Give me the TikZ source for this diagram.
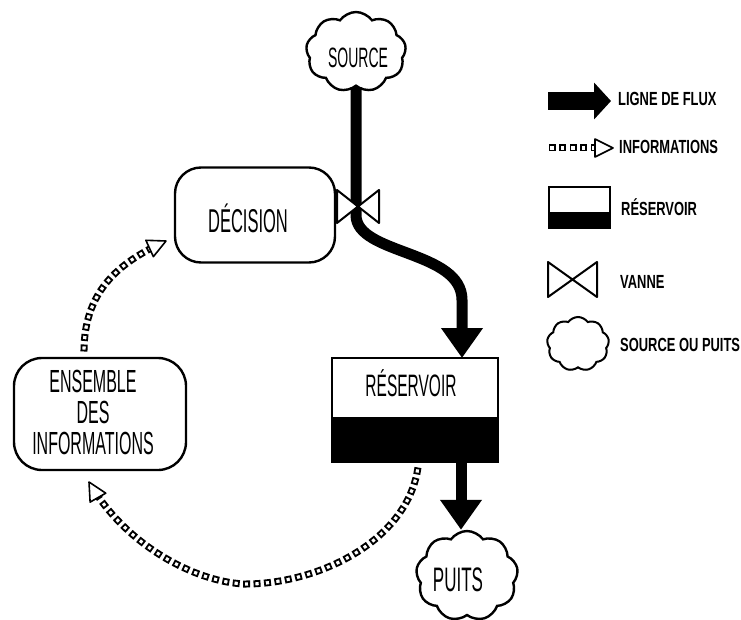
\documentclass[tikz,border=0pt]{standalone}
\usepackage{fontspec}
\usetikzlibrary{shapes.symbols,arrows.meta,decorations.markings,calc}
\newfontfamily\handbig[FakeStretch=0.5]{Liberation Sans}
\newfontfamily\handsmall[FakeStretch=0.68]{Liberation Sans}
\begin{document}
\begin{tikzpicture}[x=1pt,y=-1pt,
  box/.style={draw, line width=2.4pt, rounded corners=26pt, inner sep=0pt},
  cloudy/.style={cloud, draw, line width=2.4pt, cloud puffs=9, cloud puff arc=110, inner sep=0pt, aspect=1.25},
  bigtxt/.style={font=\handbig\fontsize{32}{31}\selectfont, inner sep=0pt},
  legtxt/.style={font=\handsmall\bfseries\fontsize{19}{19}\selectfont, inner sep=0pt, anchor=base west},
  flow/.style={line width=11pt, -{Triangle[width=40pt,length=30pt]}},
  sq/.style={line width=1.8pt},
  infochain/.style={draw=none,
    postaction={decorate, decoration={markings,
      mark=between positions 4pt and -15pt step 10.5pt with {\draw[sq] (-2.6pt,-2.6pt) rectangle (2.6pt,2.6pt);}}},
    postaction={decorate, decoration={markings,
      mark=at position 1 with {\draw[line width=1.6pt, fill=white, line join=round] (0pt,0pt) -- (-18pt,9pt) -- (-18pt,-9pt) -- cycle;}}}},
  valve/.style={line width=2pt, line join=round, fill=white}
]
\fill[white] (0,0) rectangle (741,620);
\useasboundingbox (0,0) rectangle (741,620);

% --- stock and clouds
\node[cloudy, minimum width=100pt, minimum height=80pt] (src) at (356,52) {};
\node[bigtxt, anchor=base, font=\handbig\fontsize{28}{28}\selectfont] (srctxt) at (358,68) {SOURCE};

\node[cloudy, minimum width=102pt, minimum height=90pt] (puits) at (467,576) {};
\node[bigtxt, anchor=base, font=\handbig\fontsize{34}{34}\selectfont] (puitstxt) at (458,591) {PUITS};

\node[box, minimum width=160pt, minimum height=95pt] (dec) at (255,215) {};
\node[bigtxt, anchor=base, font=\handbig\fontsize{33}{33}\selectfont] (dectxt) at (248,233) {DÉCISION};

\node[box, rounded corners=28pt, minimum width=172pt, minimum height=112pt] (ens) at (100,414) {};
\node[bigtxt, align=center] (enstxt) at (93,412) {ENSEMBLE\\DES\\INFORMATIONS};

\fill (332,417) rectangle (498,462);
\node[draw, line width=2.4pt, minimum width=166pt, minimum height=104pt, inner sep=0pt] (res) at (415,410) {};
\node[bigtxt, anchor=base, font=\handbig\fontsize{31}{31}\selectfont] (restxt) at (411,396) {RÉSERVOIR};

% --- connector end points on the stock
\coordinate (resin) at (462,358);
\coordinate (resout) at (461,462);
\coordinate (infostart) at (418,467);
\coordinate (enstop) at (84,352);
\coordinate (declft) at (166,241);
\coordinate (ensbot) at (89,482);

% --- material flows
\draw[flow] (src.south) -- (356,215) .. controls (356,255) and (462,250) .. (462,300) -- (resin);
\draw[flow] (resout) -- (resout |- puits.north);

% --- valve on the inflow
\draw[valve] (337,190) -- (379,223) -- (379,190) -- (337,223) -- cycle;

% --- information links
\path[infochain] (infostart) .. controls (408,540) and (320,584) .. (245,584)
   .. controls (195,582) and (125,545) .. (ensbot);
\path[infochain] (enstop) .. controls (84,290) and (120,262) .. (declft);

% --- legend
\coordinate (lgA) at (548,101);
\coordinate (lgB) at (611,101);
\draw[line width=18pt, -{Triangle[width=36pt,length=17pt]}] (lgA) -- (lgB);
\node[legtxt] (lg1) at (618,106) {LIGNE DE FLUX};

\coordinate (lgC) at (548,148);
\coordinate (lgD) at (613,148);
\path[infochain] (lgC) -- (lgD);
\node[legtxt] (lg2) at (619,154) {INFORMATIONS};

\fill (549,212) rectangle (610,228);
\draw[line width=2.4pt] (549,187) rectangle (610,228);
\node[legtxt] (lg3) at (621,216) {RÉSERVOIR};

\draw[valve] (548,262) -- (597,297) -- (597,262) -- (548,297) -- cycle;
\node[legtxt] (lg4) at (620,288) {VANNE};

\node[cloudy, line width=2pt, minimum width=62pt, minimum height=54pt] (lgcloud) at (578,344) {};
\node[legtxt] (lg5) at (620,351) {SOURCE OU PUITS};
\end{tikzpicture}
\end{document}
